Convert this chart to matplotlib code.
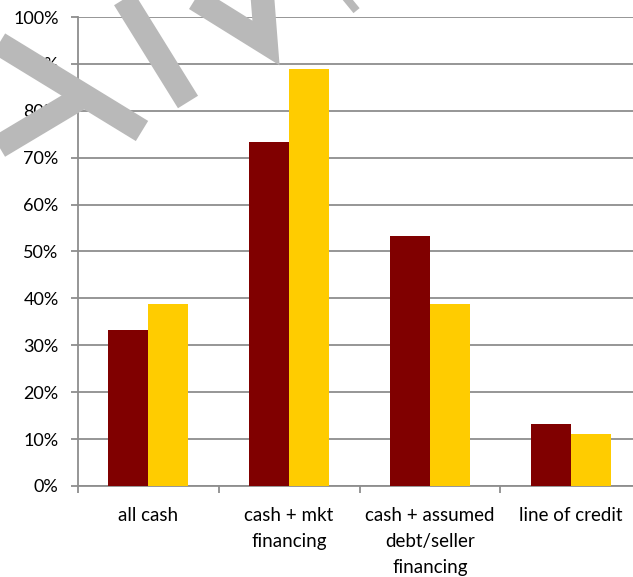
import matplotlib
matplotlib.use("Agg")
import matplotlib.pyplot as plt
from matplotlib.lines import Line2D
from matplotlib.ticker import FixedLocator, PercentFormatter
import numpy as np

categories = ["all cash", "cash + mkt\nfinancing", "cash + assumed\ndebt/seller\nfinancing", "line of credit"]
series_a = [33.3, 73.3, 53.3, 13.3]
series_b = [38.9, 88.9, 38.9, 11.1]
y_ticks = [0, 10, 20, 30, 40, 50, 60, 70, 80, 90, 100]

W, H, DPI = 633, 577, 100
plt.rcParams["font.family"] = ["Lato", "DejaVu Sans"]

fig = plt.figure(figsize=(W / DPI, H / DPI), dpi=DPI)
ax = fig.add_axes([78 / W, 1 - 486 / H, (641 - 78) / W, (486 - 17) / H])

x = np.arange(len(categories))
bw = 0.284
ax.bar(x - bw / 2, series_a, width=bw, color="#800000", zorder=3)
ax.bar(x + bw / 2, series_b, width=bw, color="#FFCC00", zorder=3)

ax.set_xlim(-0.5, len(categories) - 0.5)
ax.set_ylim(0, 100)

grid_col = "#8e8e8e"
ax.yaxis.set_major_locator(FixedLocator(y_ticks))
ax.yaxis.set_major_formatter(PercentFormatter(decimals=0))
ax.grid(axis="y", color=grid_col, linewidth=1.3, zorder=0)
ax.tick_params(axis="y", length=5, width=1.3, color=grid_col, pad=9,
               labelsize=13, labelcolor="black")

# boundary ticks between categories, labels centred under each group
ax.set_xticks(np.arange(len(categories) + 1) - 0.5)
ax.set_xticklabels([])
ax.set_xticks(x, minor=True)
ax.set_xticklabels(categories, minor=True, fontsize=13.5, linespacing=1.65)
ax.tick_params(axis="x", which="major", length=5, width=1.3, color=grid_col, direction="out")
ax.tick_params(axis="x", which="minor", length=0, pad=15)

for s in ["top", "right"]:
    ax.spines[s].set_visible(False)
ax.spines["left"].set_color(grid_col)
ax.spines["left"].set_linewidth(1.3)
ax.spines["bottom"].set_color(grid_col)
ax.spines["bottom"].set_linewidth(1.3)

# grey pen strokes drawn across the top of the figure (pixel coords, origin top-left)
strokes = [
    [(-10, 38), (142, 131)],
    [(-10, 152), (82, 97)],
    [(121, -6), (188, 102)],
    [(184, -8), (266, 43), (262, -8)],
    [(368, -14), (346, 4)],
]
for pts in strokes:
    xs = [p[0] / W for p in pts]
    ys = [1 - p[1] / H for p in pts]
    fig.add_artist(Line2D(xs, ys, transform=fig.transFigure, color="#b9b9b9",
                          linewidth=17, solid_capstyle="butt", solid_joinstyle="miter",
                          zorder=10))

fig.savefig("out.png", dpi=DPI)
